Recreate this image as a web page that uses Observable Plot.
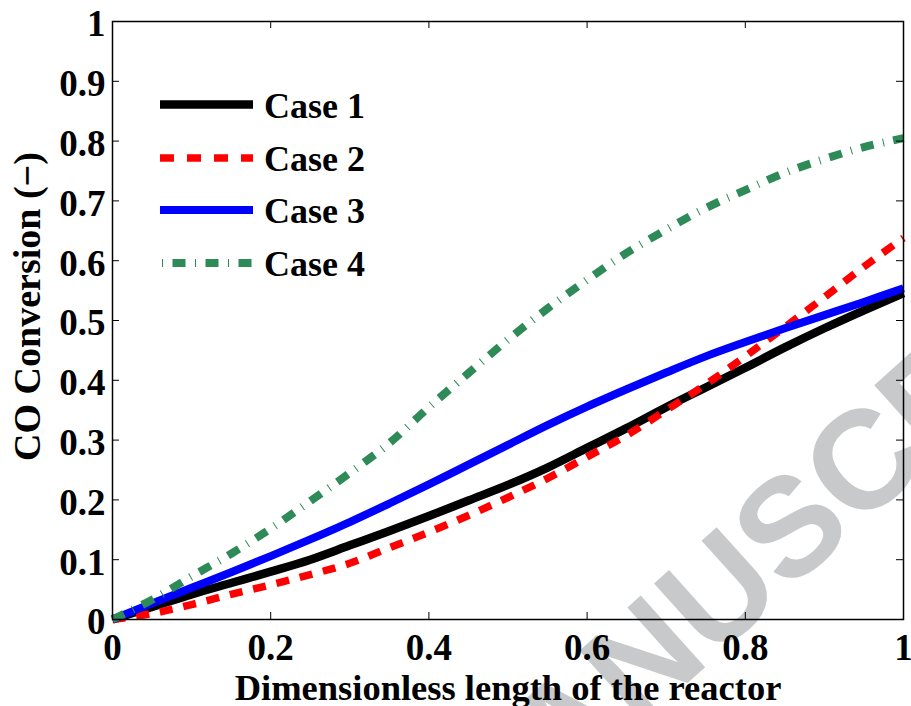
<!DOCTYPE html>
<html>
<head>
<meta charset="utf-8">
<script src="https://cdn.jsdelivr.net/npm/d3@7"></script>
<script src="https://cdn.jsdelivr.net/npm/@observablehq/plot@0.6"></script>
<style>
  html, body { margin: 0; padding: 0; background: #fff; }
  #wrap { position: relative; width: 911px; height: 706px; overflow: hidden; }
  #legend { position: absolute; left: 0; top: 0; pointer-events: none; }
</style>
</head>
<body>
<div id="wrap"></div>
<script>
// ---- data ----
const xPos = [0,0.05,0.1,0.15,0.2,0.25,0.3,0.35,0.4,0.45,0.5,0.55,0.6,0.65,0.7,0.75,0.8,0.85,0.9,0.95,1];
const case1 = [0,0.021,0.042,0.061,0.080,0.100,0.124,0.148,0.173,0.199,0.225,0.254,0.287,0.320,0.355,0.388,0.421,0.455,0.487,0.517,0.546];
const case2 = [0,0.010,0.025,0.042,0.058,0.075,0.094,0.120,0.146,0.174,0.204,0.236,0.272,0.308,0.350,0.393,0.440,0.489,0.539,0.590,0.638];
const case3 = [0,0.027,0.053,0.079,0.106,0.134,0.163,0.194,0.226,0.259,0.292,0.325,0.356,0.385,0.413,0.440,0.464,0.487,0.509,0.531,0.554];
const case4 = [0,0.033,0.072,0.110,0.152,0.198,0.245,0.295,0.355,0.412,0.468,0.520,0.568,0.613,0.652,0.688,0.718,0.747,0.770,0.790,0.805];
const seriesNames = ["Case 1","Case 2","Case 3","Case 4"];
const xTicks = [0,0.2,0.4,0.6,0.8,1];
const yTicks = [0,0.1,0.2,0.3,0.4,0.5,0.6,0.7,0.8,0.9,1];
const xLabel = "Dimensionless length of the reactor";
const yLabel = "CO Conversion (\u2212)";
const watermark = "ACCEPTED MANUSCRIPT";

// ---- styles ----
const styles = [
  {stroke: "#000000", strokeWidth: 8.5, dash: null},
  {stroke: "#ff0000", strokeWidth: 7.5, dash: "13,11"},
  {stroke: "#0000ff", strokeWidth: 8, dash: null},
  {stroke: "#2e8b57", strokeWidth: 8, dash: "13,9.5,1,9.5"}
];
const allCases = [case1, case2, case3, case4];
const W = 911, H = 706;
const mL = 112, mR = 8, mT = 21, mB = 87;
const iW = W - mL - mR, iH = H - mT - mB;
const font = "'Liberation Serif', 'Times New Roman', serif";

const lineMarks = allCases.map((vals, i) =>
  Plot.line(xPos.map((x, j) => ({x, y: vals[j]})), {
    x: "x", y: "y",
    stroke: styles[i].stroke,
    strokeWidth: styles[i].strokeWidth,
    strokeDasharray: styles[i].dash || undefined,
    strokeLinecap: "butt",
    strokeLinejoin: "round",
    curve: "catmull-rom"
  })
);

const chart = Plot.plot({
  width: W, height: H,
  marginLeft: mL, marginRight: mR, marginTop: mT, marginBottom: mB,
  style: {fontFamily: font, fontWeight: "bold", fontSize: "37px", color: "#000", background: "#fff", overflow: "hidden"},
  x: {domain: [0, 1]},
  y: {domain: [0, 1]},
  marks: [
    Plot.text([watermark], {
      text: d => d, frameAnchor: "top-left",
      dx: -305, dy: 1320, rotate: -42, textAnchor: "start",
      fontFamily: "'Liberation Sans', Arial, sans-serif", fontWeight: "bold",
      fontSize: 140, fill: "#c8c9cb"
    }),
    ...lineMarks,
    Plot.tickX(xTicks, {x: d => d, insetTop: iH - 7, stroke: "#000", strokeWidth: 1}),
    Plot.tickX(xTicks, {x: d => d, insetBottom: iH - 7, stroke: "#000", strokeWidth: 1}),
    Plot.tickY(yTicks, {y: d => d, insetRight: iW - 7, stroke: "#000", strokeWidth: 1}),
    Plot.tickY(yTicks, {y: d => d, insetLeft: iW - 7, stroke: "#000", strokeWidth: 1}),
    Plot.frame({stroke: "#000", strokeWidth: 1.5}),
    Plot.axisX(xTicks, {tickSize: 0, tickPadding: 14, tickFormat: d => String(d), label: null, fontSize: 37}),
    Plot.axisY(yTicks, {tickSize: 0, tickPadding: 7, dy: 3, tickFormat: d => String(d), label: null, fontSize: 37}),
    Plot.text([xLabel], {text: d => d, frameAnchor: "bottom", dy: 80, fontSize: 36.5, lineAnchor: "bottom", textAnchor: "middle"}),
    Plot.text([yLabel], {text: d => d, frameAnchor: "left", dx: -73, dy: -14, rotate: -90, fontSize: 38, lineAnchor: "bottom", textAnchor: "middle"})
  ]
});
const wrap = document.getElementById("wrap");
wrap.appendChild(chart);

// ---- legend (overlay) ----
const ns = "http://www.w3.org/2000/svg";
const leg = document.createElementNS(ns, "svg");
leg.setAttribute("id", "legend");
leg.setAttribute("width", W);
leg.setAttribute("height", H);
const rowY = [104.5, 158, 210, 263];
seriesNames.forEach((name, i) => {
  const l = document.createElementNS(ns, "line");
  l.setAttribute("x1", 160); l.setAttribute("x2", 253);
  l.setAttribute("y1", rowY[i]); l.setAttribute("y2", rowY[i]);
  l.setAttribute("stroke", styles[i].stroke);
  l.setAttribute("stroke-width", styles[i].strokeWidth);
  if (styles[i].dash) l.setAttribute("stroke-dasharray", i === 3 ? "0,2,1,9.5,13,9.5,1,9.5,13,9.5,1,9.5,13,9.5,1" : "14,13");
  leg.appendChild(l);
  const t = document.createElementNS(ns, "text");
  t.setAttribute("x", 264); t.setAttribute("y", rowY[i] + 13);
  t.setAttribute("font-family", font);
  t.setAttribute("font-weight", "bold");
  t.setAttribute("font-size", 36);
  t.textContent = name;
  leg.appendChild(t);
});
wrap.appendChild(leg);
</script>
</body>
</html>
